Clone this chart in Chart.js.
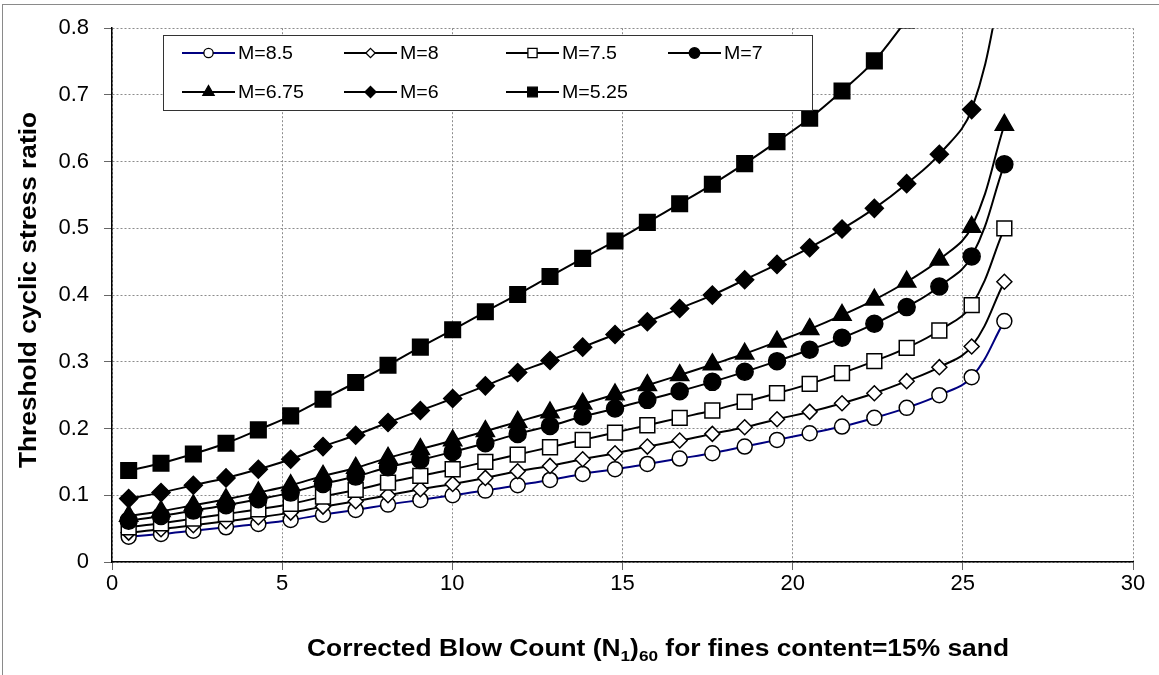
<!DOCTYPE html>
<html>
<head>
<meta charset="utf-8">
<script src="https://cdn.jsdelivr.net/npm/chart.js@4.4.1/dist/chart.umd.min.js"></script>
<style>
html,body{margin:0;padding:0;background:#fff;}
#wrap{width:1159px;height:675px;position:relative;}
</style>
</head>
<body>
<div id="wrap"><canvas id="c" width="1159" height="675"></canvas></div>
<script>
// ---------- data ----------
const blowCounts = [0.49,1.44,2.39,3.35,4.30,5.25,6.20,7.16,8.11,9.06,10.01,10.97,11.92,12.87,13.83,14.78,15.73,16.68,17.64,18.59,19.54,20.50,21.45,22.40,23.35,24.31,25.26,26.22];

const seriesLabels = ['M=8.5','M=8','M=7.5','M=7','M=6.75','M=6','M=5.25'];

const csrM85  = [0.038,0.042,0.047,0.052,0.057,0.063,0.071,0.078,0.086,0.093,0.100,0.107,0.115,0.123,0.132,0.139,0.147,0.155,0.163,0.173,0.183,0.193,0.203,0.216,0.231,0.250,0.277,0.361];
const csrM8   = [0.044,0.049,0.055,0.061,0.067,0.074,0.083,0.091,0.100,0.109,0.117,0.126,0.136,0.144,0.154,0.163,0.173,0.182,0.192,0.202,0.214,0.225,0.238,0.253,0.271,0.292,0.323,0.420];
const csrM75  = [0.052,0.058,0.065,0.072,0.079,0.087,0.098,0.108,0.119,0.129,0.139,0.150,0.161,0.172,0.183,0.194,0.205,0.216,0.227,0.240,0.253,0.267,0.283,0.301,0.321,0.347,0.385,0.500];
const csrM7   = [0.062,0.069,0.077,0.085,0.094,0.104,0.117,0.128,0.142,0.153,0.165,0.178,0.192,0.204,0.218,0.230,0.243,0.256,0.270,0.285,0.301,0.318,0.336,0.357,0.382,0.413,0.458,0.596];
const csrM675 = [0.069,0.076,0.085,0.094,0.104,0.115,0.129,0.141,0.156,0.169,0.182,0.196,0.210,0.224,0.237,0.251,0.265,0.280,0.296,0.312,0.330,0.349,0.370,0.393,0.420,0.453,0.502,0.655];
const csrM6   = [0.095,0.104,0.115,0.126,0.139,0.154,0.173,0.190,0.209,0.227,0.245,0.264,0.284,0.302,0.322,0.341,0.360,0.380,0.400,0.423,0.446,0.471,0.499,0.530,0.567,0.611,0.678,0.885];
const csrM525 = [0.137,0.148,0.162,0.178,0.198,0.219,0.244,0.269,0.295,0.322,0.348,0.375,0.401,0.428,0.455,0.481,0.509,0.537,0.566,0.597,0.630,0.665,0.706,0.751,0.812,0.870,0.960,1.250];

const xTickStep = 5;
const yTickStep = 0.1;
const xTitleParts = [['Corrected Blow Count (N',0],['1',1],[')',0],['60',1],[' for fines content=15% sand',0]];
const yTitle = 'Threshold cyclic stress ratio';

// ---------- styles ----------
const FONT = "'Liberation Sans', Arial, Helvetica, sans-serif";
const seriesValues = [csrM85, csrM8, csrM75, csrM7, csrM675, csrM6, csrM525];
const seriesStyles = [
  {shape:'circle',   fill:'#ffffff', r:7.5, line:'#000080'},
  {shape:'rectRot',  fill:'#ffffff', r:7.5, line:'#000000'},
  {shape:'rect',     fill:'#ffffff', r:10.5, line:'#000000'},
  {shape:'circle',   fill:'#000000', r:8.5, line:'#000000'},
  {shape:'triangle', fill:'#000000', r:10.5, line:'#000000'},
  {shape:'rectRot',  fill:'#000000', r:9,  line:'#000000'},
  {shape:'rect',     fill:'#000000', r:11, line:'#000000'}
];

const datasets = seriesLabels.map((label, k) => ({
  label,
  data: blowCounts.map((x, i) => ({x, y: seriesValues[k][i]})),
  borderColor: seriesStyles[k].line,
  borderWidth: 2,
  pointStyle: seriesStyles[k].shape,
  pointRadius: seriesStyles[k].r,
  pointHoverRadius: seriesStyles[k].r,
  pointBackgroundColor: seriesStyles[k].fill,
  pointBorderColor: '#000000',
  pointBorderWidth: 1.5,
  tension: 0.4,
  fill: false,
  order: seriesLabels.length - k
}));

function drawMarker(ctx, shape, x, y, r, fill) {
  ctx.save();
  ctx.beginPath();
  if (shape === 'circle') {
    ctx.arc(x, y, r, 0, Math.PI * 2);
  } else if (shape === 'rect') {
    const s = r * Math.SQRT1_2;
    ctx.rect(x - s, y - s, 2 * s, 2 * s);
  } else if (shape === 'rectRot') {
    ctx.moveTo(x, y - r); ctx.lineTo(x + r, y); ctx.lineTo(x, y + r); ctx.lineTo(x - r, y); ctx.closePath();
  } else if (shape === 'triangle') {
    for (let a = 0; a < 3; a++) {
      const ang = a * 2 * Math.PI / 3;
      const px = x + Math.sin(ang) * r, py = y - Math.cos(ang) * r;
      if (a === 0) ctx.moveTo(px, py); else ctx.lineTo(px, py);
    }
    ctx.closePath();
  }
  ctx.fillStyle = fill; ctx.fill();
  ctx.lineWidth = 1.3; ctx.strokeStyle = '#000'; ctx.stroke();
  ctx.restore();
}

const framePlugin = {
  id: 'frame',
  beforeDraw(chart) {
    const ctx = chart.ctx;
    ctx.save();
    ctx.fillStyle = '#fff';
    ctx.fillRect(0, 0, chart.width, chart.height);
    ctx.strokeStyle = '#8a8a8a';
    ctx.lineWidth = 1;
    ctx.strokeRect(2.5, 4.5, chart.width + 20, chart.height + 20);
    ctx.restore();
  },
  afterDraw(chart) {
    const ctx = chart.ctx;
    // y axis title (wide text, ~358px long)
    ctx.save();
    ctx.fillStyle = '#000';
    ctx.font = "bold 23px " + FONT;
    ctx.textAlign = 'center';
    ctx.textBaseline = 'middle';
    const yw = ctx.measureText(yTitle).width;
    ctx.translate(30, 290);
    ctx.rotate(-Math.PI / 2);
    ctx.scale(356 / yw, 1);
    ctx.fillText(yTitle, 0, 0);
    ctx.restore();
    // x axis title with subscripts, spanning ~307..1009
    ctx.save();
    ctx.fillStyle = '#000';
    ctx.textBaseline = 'alphabetic';
    ctx.textAlign = 'left';
    const mainFont = "bold 23px " + FONT, subFont = "bold 15px " + FONT;
    let total = 0;
    xTitleParts.forEach(([t, sub]) => { ctx.font = sub ? subFont : mainFont; total += ctx.measureText(t).width; });
    const sx = 702 / total;
    ctx.translate(307, 656);
    ctx.scale(sx, 1);
    let x = 0;
    xTitleParts.forEach(([t, sub]) => {
      ctx.font = sub ? subFont : mainFont;
      ctx.fillText(t, x, sub ? 5 : 0);
      x += ctx.measureText(t).width;
    });
    ctx.restore();
    // legend
    ctx.save();
    const L = 163, T = 35, R = 812, B = 110;
    ctx.fillStyle = '#fff';
    ctx.fillRect(L, T, R - L, B - T);
    ctx.strokeStyle = '#333';
    ctx.lineWidth = 1;
    ctx.strokeRect(L + 0.5, T + 0.5, R - L, B - T);
    ctx.textBaseline = 'middle';
    ctx.textAlign = 'left';
    seriesLabels.forEach((lab, k) => {
      const col = k % 4, row = Math.floor(k / 4);
      const x0 = 182 + col * 162, y0 = row === 0 ? 53 : 92;
      ctx.strokeStyle = seriesStyles[k].line;
      ctx.lineWidth = 2;
      ctx.beginPath(); ctx.moveTo(x0, y0); ctx.lineTo(x0 + 53, y0); ctx.stroke();
      drawMarker(ctx, seriesStyles[k].shape, x0 + 26.5, y0, seriesStyles[k].r * 0.62, seriesStyles[k].fill);
      ctx.save();
      ctx.fillStyle = '#000';
      ctx.font = "17.5px " + FONT;
      ctx.translate(x0 + 56, y0 + 1);
      ctx.scale(1.12, 1);
      ctx.fillText(lab, 0, 0);
      ctx.restore();
    });
    ctx.restore();
  }
};

new Chart(document.getElementById('c'), {
  type: 'line',
  data: { datasets },
  plugins: [framePlugin],
  options: {
    responsive: false,
    animation: false,
    devicePixelRatio: 1,
    layout: { padding: { top: 26, right: 26, left: 0, bottom: 0 } },
    plugins: { legend: { display: false }, tooltip: { enabled: false } },
    elements: { line: { capBezierPoints: false } },
    scales: {
      x: {
        type: 'linear', min: 0, max: 30,
        afterFit: s => { s.height = 113; },
        ticks: { stepSize: xTickStep, color: '#000', font: { family: FONT, size: 22 }, padding: 1, maxRotation: 0 },
        grid: { color: '#8c8c8c', lineWidth: 1, tickLength: 8, tickColor: '#666', tickBorderDash: [] },
        border: { display: true, color: '#000', width: 1.5, dash: [2, 2] }
      },
      y: {
        type: 'linear', min: 0, max: 0.8,
        afterFit: s => { s.width = 112; },
        ticks: { stepSize: yTickStep, color: '#000', font: { family: FONT, size: 22 }, padding: 15,
                 callback: v => (Math.abs(v) < 1e-9 ? '0' : v.toFixed(1)) },
        grid: { color: '#8c8c8c', lineWidth: 1, tickLength: 8, tickColor: '#666', tickBorderDash: [] },
        border: { display: true, color: '#000', width: 1.5, dash: [2, 2] }
      }
    }
  }
});
</script>
</body>
</html>
